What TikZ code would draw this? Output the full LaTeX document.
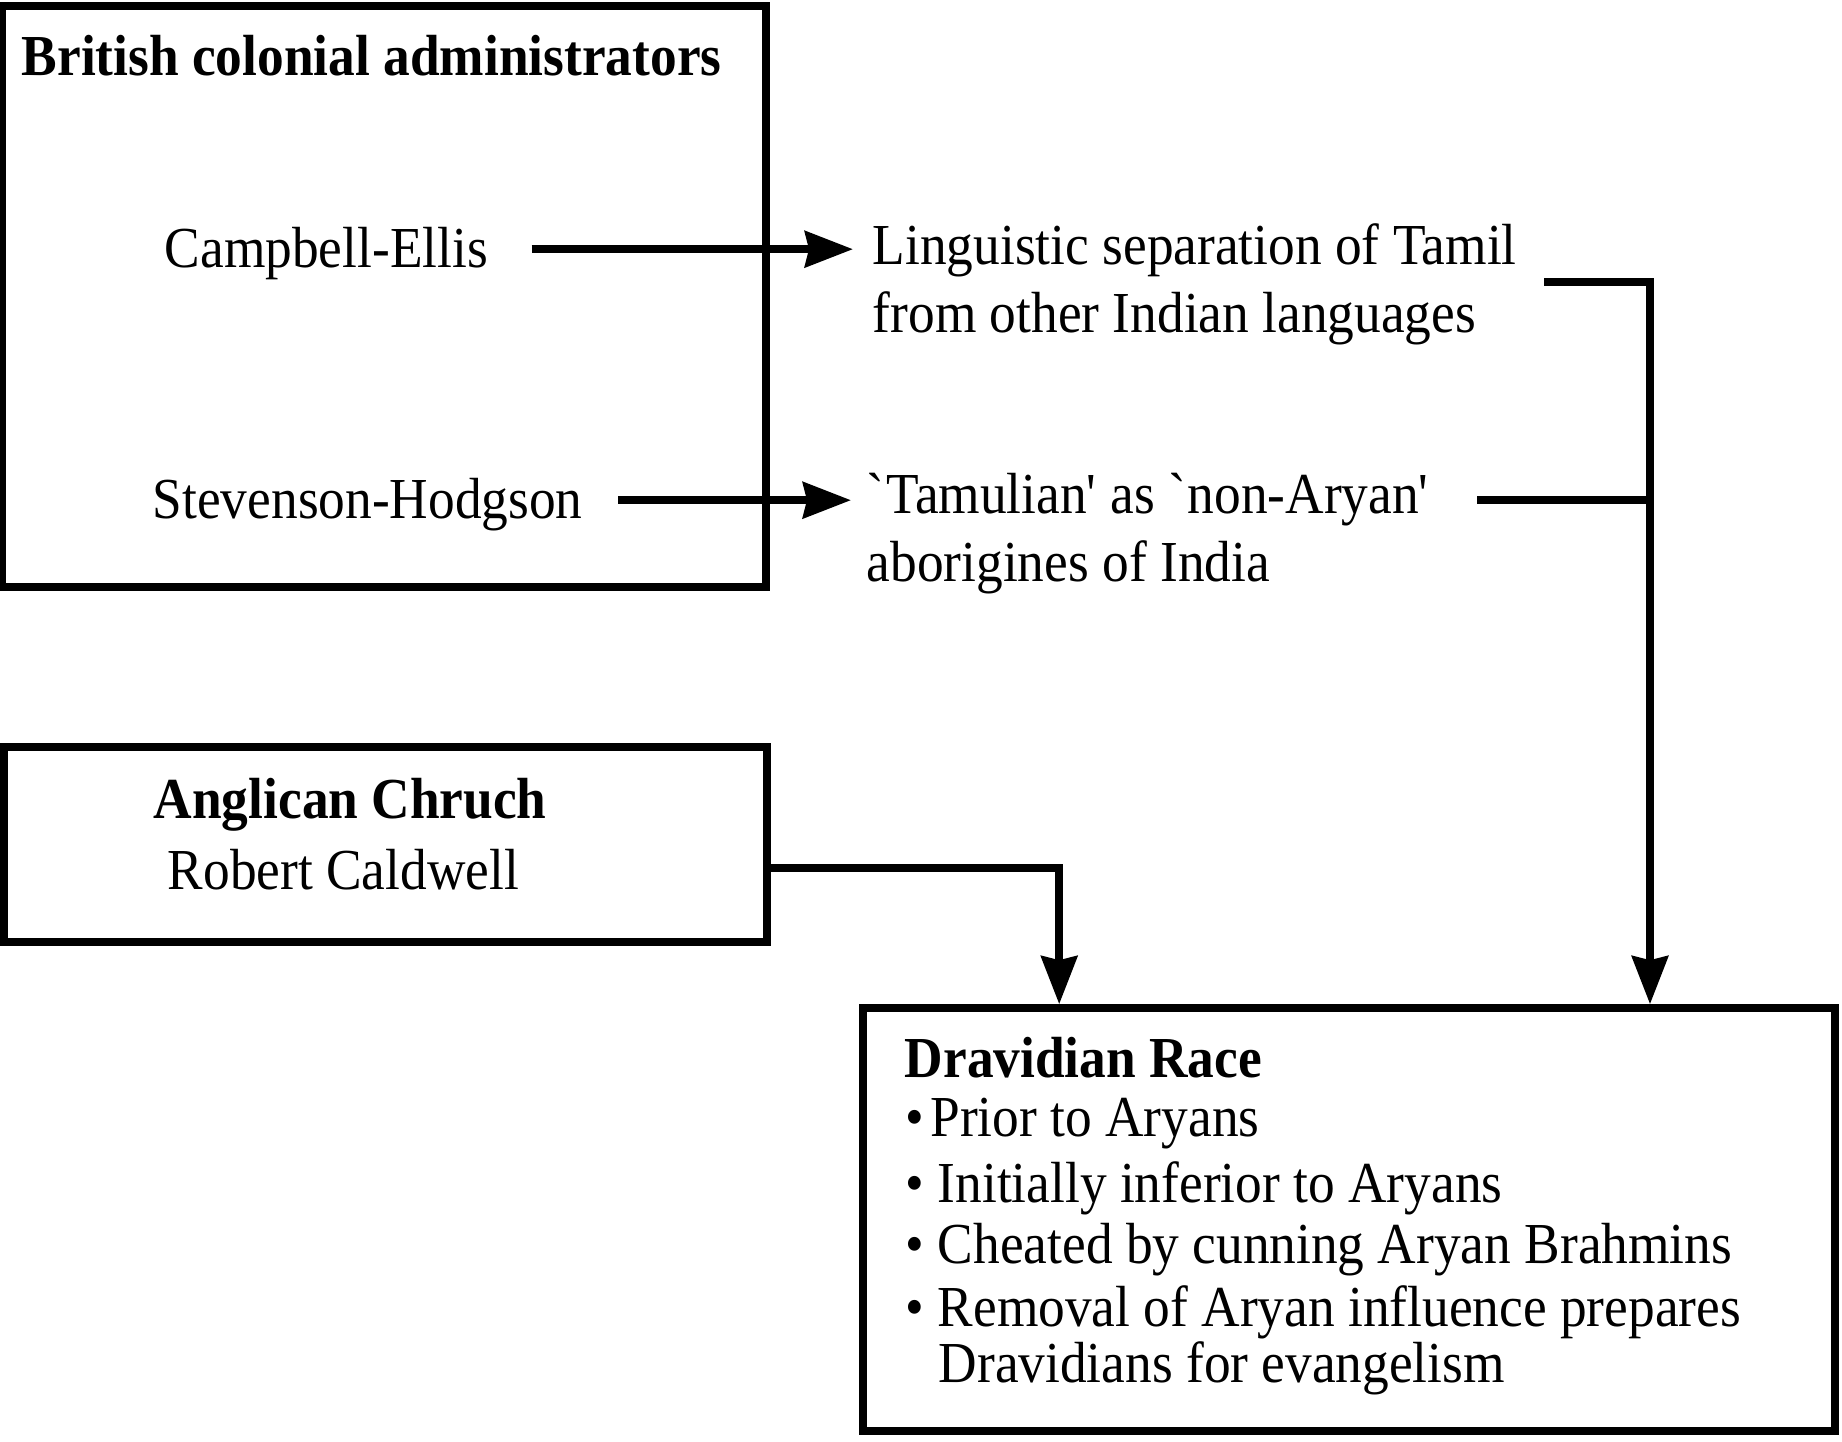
\documentclass[tikz,border=0pt]{standalone}
\usepackage{fontspec}
\setmainfont{Liberation Serif}[FakeStretch=0.92]
\usetikzlibrary{arrows.meta,positioning}

\begin{document}
\begin{tikzpicture}[x=0.25pt, y=-0.25pt, line width=1.9pt,
  every node/.style={font=\fontsize{14.5}{17}\selectfont, inner sep=0pt, align=left},
  box/.style={draw, line width=1.9pt},
  arr/.style={-{Stealth[length=12pt,width=9pt,inset=1pt]}}]
\useasboundingbox (0,0) rectangle (1842,1442);

% boxes
\node[box, minimum width=191pt, minimum height=145.25pt] (adminbox) at (384,296.5) {};
\node[box, minimum width=190.75pt, minimum height=48.75pt] (churchbox) at (385.5,844.5) {};
\node[box, minimum width=243pt, minimum height=105.75pt] (race) at (1349,1219.5) {};

% colonial administrators
\node[anchor=west] (admin) at (18,56) {\textbf{British colonial administrators}};
\node[anchor=west] (ellis) at (161,254) {Campbell-Ellis};
\node[anchor=west] (hodg) at (149,505) {Stevenson-Hodgson};

\node[anchor=west] (lingu) at (869,284) {Linguistic separation of Tamil\\from other Indian languages};
\node[anchor=west] (tamul) at (863,534) {\textasciigrave Tamulian\textquotesingle{} as \textasciigrave non-Aryan\textquotesingle\\aborigines of India};

\coordinate (rail) at (1650,282);

\draw[arr, shorten <=10pt, shorten >=4pt] ([yshift=1.2pt]ellis.east) -- ([yshift=1.2pt]ellis.east -| lingu.west);
\draw[arr, shorten <=8pt, shorten >=3pt] ([yshift=1.2pt]hodg.east) -- ([yshift=1.2pt]hodg.east -| tamul.west);
\draw[arr, shorten <=6pt] (lingu.east |- rail) -- (rail) -- (rail |- race.north);
\draw[shorten <=11pt] ([yshift=1.2pt]hodg.east -| tamul.east) -- ([yshift=1.2pt]hodg.east -| rail);

% church
\node[anchor=west] (church) at (150,805) {\textbf{Anglican Chruch}};
\node[anchor=west] (caldwell) at (164,870) {Robert Caldwell};
\draw[arr] ([yshift=0.5pt]caldwell.east -| churchbox.east) -| ([xshift=50pt]race.north west);

% dravidian race
\node[anchor=west] (racetitle) at (901,1058) {\textbf{Dravidian Race}};
\node[anchor=west] (b1) at (902,1124) {\textbullet\hspace{1.5pt}Prior to Aryans};
\node[anchor=west] (b2) at (902,1188) {\textbullet\ Initially inferior to Aryans};
\node[anchor=west] (b3) at (902,1250) {\textbullet\ Cheated by cunning Aryan Brahmins};
\node[anchor=west] (b4) at (902,1312) {\textbullet\ Removal of Aryan influence prepares};
\node[anchor=west] (b5) at (935,1368) {Dravidians for evangelism};
\end{tikzpicture}
\end{document}
